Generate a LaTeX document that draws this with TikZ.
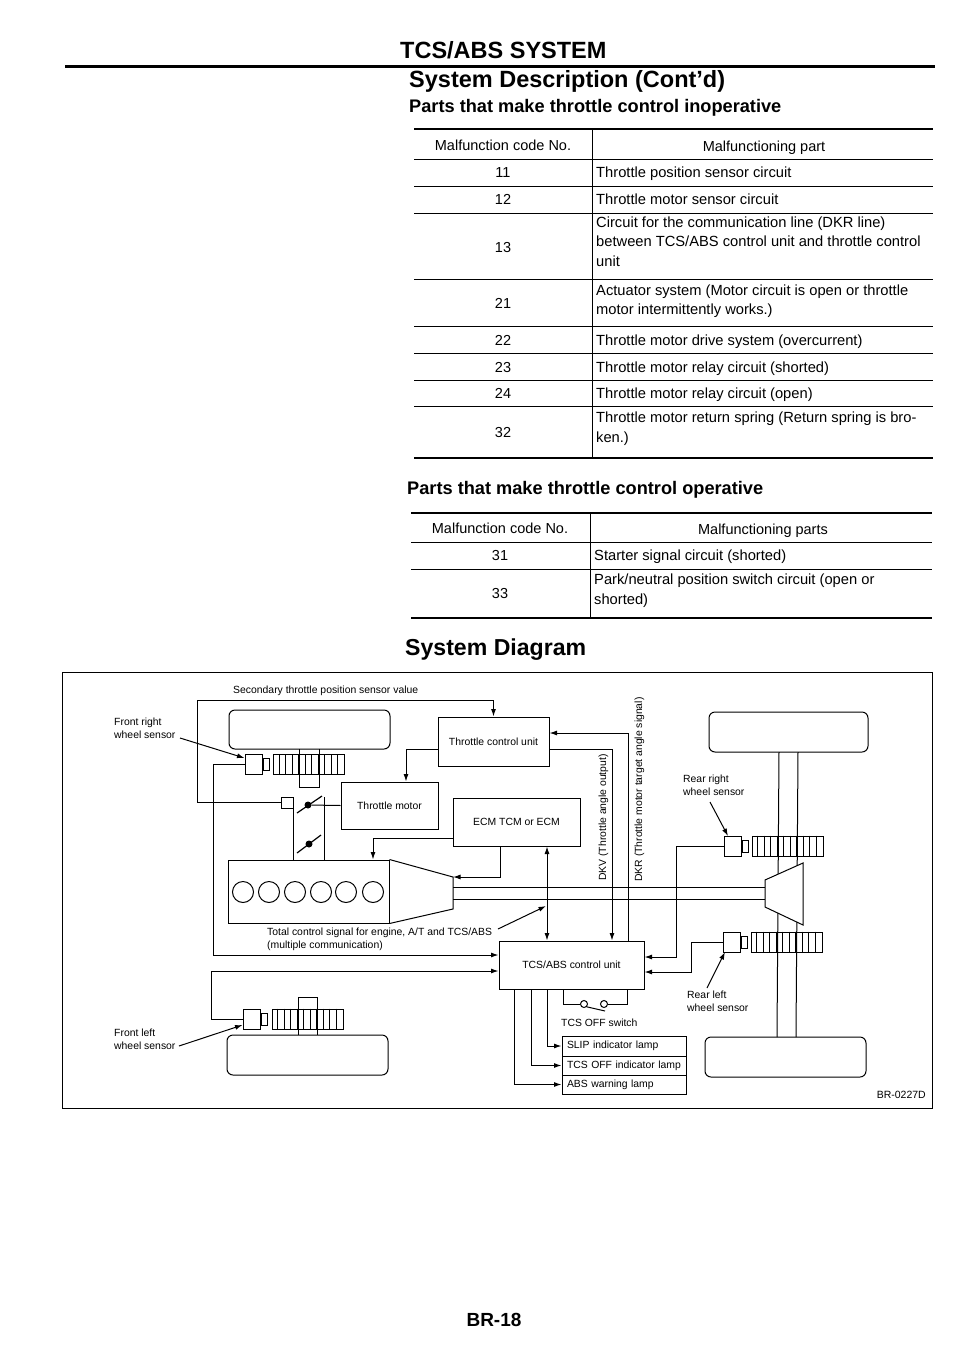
\documentclass[tikz,border=0pt]{standalone}
\usepackage{fontspec}
\setmainfont{Liberation Sans}
\usetikzlibrary{arrows.meta,calc}

\tikzset{
  block/.style={draw,line width=1pt,inner sep=0pt,font=\fontsize{10.4}{12}\selectfont},
  lamp/.style={block,minimum width=124pt,text width=119pt,align=left,execute at begin node={\hspace*{2.5pt}}},
  tire/.style={draw,line width=1pt,rounded corners=6pt,inner sep=0pt},
  lbl/.style={font=\fontsize{10.4}{13}\selectfont,inner sep=0pt,anchor=base west,align=left},
  cell/.style={font=\fontsize{14.7}{19.5}\selectfont,inner sep=0pt,anchor=base west,align=left},
  num/.style={font=\fontsize{14.5}{16}\selectfont,inner sep=0pt,anchor=base},
  head/.style={font=\bfseries\fontsize{23.5}{26}\selectfont,inner sep=0pt,anchor=base west},
  subhead/.style={font=\bfseries\fontsize{18.2}{20}\selectfont,inner sep=0pt,anchor=base west},
  wire/.style={line width=1pt},
}

% gear: name, centre x, centre y
\newcommand{\toothring}[3]{
  \node[block,minimum width=71pt,minimum height=20pt] (#1) at (#2,#3) {};
  \foreach \t in {1,...,10}
    \draw[wire] ($(#1.north west)+(\t*6.45,0)$) -- ($(#1.south west)+(\t*6.45,0)$);
}
% sensor: name, left x, centre y
\newcommand{\speedsensor}[3]{
  \node[block,minimum width=17pt,minimum height=20pt] (#1) at (#2+8.5,#3) {};
  \node[block,minimum width=6pt,minimum height=12pt,anchor=west] (#1nub) at (#1.east) {};
}

\begin{document}
\begin{tikzpicture}[x=1pt,y=-1pt,>={Latex[length=7.5pt,width=5pt]}]
\useasboundingbox (0,0) rectangle (960,1358);
\fill[white] (0,0) rectangle (960,1358);

% page heading
\node[head] (title) at (400,58) {TCS/ABS SYSTEM};
\draw[line width=3pt] (65,66) -- (935,66);
\node[head] (desc) at (409,87) {System Description (Cont'd)};
\node[subhead] (inop) at (409,112) {Parts that make throttle control inoperative};

% first table
\draw[line width=2pt] (414,129) -- (933,129);
\foreach \y in {159,186,213,279,326,353,380,406}
  \draw[line width=1pt] (414,\y) -- (933,\y);
\draw[line width=2.2pt] (414,458) -- (933,458);
\draw[line width=1pt] (592,129) -- (592,458);

\node[num] (hcode) at (503,150) {Malfunction code No.};
\node[num] (hpart) at (764,151) {Malfunctioning part};
\node[num] (n11) at (503,177) {11};
\node[cell] (p11) at (596,177) {Throttle position sensor circuit};
\node[num] (n12) at (503,204) {12};
\node[cell] (p12) at (596,204) {Throttle motor sensor circuit};
\node[num] (n13) at (503,252) {13};
\node[cell,anchor=north west] (p13) at (596,216.5) {Circuit for the communication line (DKR line)\\between TCS/ABS control unit and throttle control\\unit};
\node[num] (n21) at (503,308) {21};
\node[cell,anchor=north west] (p21) at (596,284.5) {Actuator system (Motor circuit is open or throttle\\motor intermittently works.)};
\node[num] (n22) at (503,345) {22};
\node[cell] (p22) at (596,345) {Throttle motor drive system (overcurrent)};
\node[num] (n23) at (503,372) {23};
\node[cell] (p23) at (596,372) {Throttle motor relay circuit (shorted)};
\node[num] (n24) at (503,398) {24};
\node[cell] (p24) at (596,398) {Throttle motor relay circuit (open)};
\node[num] (n32) at (503,437) {32};
\node[cell,anchor=north west] (p32) at (596,412) {Throttle motor return spring (Return spring is bro-\\ken.)};

% second table
\node[subhead] (oper) at (407,494) {Parts that make throttle control operative};
\draw[line width=2pt] (411,513) -- (932,513);
\foreach \y in {542,569}
  \draw[line width=1pt] (411,\y) -- (932,\y);
\draw[line width=2.2pt] (411,618) -- (932,618);
\draw[line width=1pt] (590,513) -- (590,618);

\node[num] (hcodeb) at (500,533) {Malfunction code No.};
\node[num] (hpartb) at (763,534) {Malfunctioning parts};
\node[num] (n31) at (500,560) {31};
\node[cell] (p31) at (594,560) {Starter signal circuit (shorted)};
\node[num] (n33) at (500,598) {33};
\node[cell,anchor=north west] (p33) at (594,574) {Park/neutral position switch circuit (open or\\shorted)};

\node[head,font=\bfseries\fontsize{23.1}{26}\selectfont] (sysd) at (405,655) {System Diagram};

% diagram frame
\draw[line width=1pt] (62.5,672) rectangle (932.5,1108);

% control units
\node[block,minimum width=111pt,minimum height=49pt] (tcu) at (493.5,741.5) {Throttle control unit};
\node[block,minimum width=97pt,minimum height=47pt] (motor) at (389.5,805.5) {Throttle motor};
\node[block,minimum width=127pt,minimum height=48pt] (ecm) at (516.5,822) {ECM TCM or ECM};
\node[block,minimum width=145pt,minimum height=48pt] (abs) at (571.5,965) {TCS/ABS control unit};

% lamps
\node[lamp,minimum height=20pt] (slip) at (624,1046) {SLIP indicator lamp};
\node[lamp,minimum height=19pt] (off) at (624,1065.5) {TCS OFF indicator lamp};
\node[lamp,minimum height=19pt] (warn) at (624,1084.5) {ABS warning lamp};

% wheels
\node[tire,minimum width=161pt,minimum height=39pt] (tirefr) at (309.5,729.5) {};
\node[tire,minimum width=161pt,minimum height=40pt] (tirefl) at (307.5,1055) {};
\node[tire,minimum width=159pt,minimum height=40pt] (tirerr) at (788.5,732) {};
\node[tire,minimum width=161pt,minimum height=40pt] (tirerl) at (785.5,1057) {};

% axles
\coordinate (stubfr) at (319,787);
\coordinate (stubfl) at (298,997);
\draw[wire] (299,749) |- (stubfr) -- (319,749);
\draw[wire] (298,1035) |- (stubfl -| 317,0) -- (317,1035);
\draw[wire] (779,752) -- (777,1037);
\draw[wire] (798,752) -- (796,1037);

% gears and sensors
\toothring{gearfr}{309}{764.5}
\toothring{gearfl}{307.5}{1019}
\toothring{gearrr}{787.5}{846}
\toothring{gearrl}{786.5}{942}
\speedsensor{fr}{245}{764}
\speedsensor{fl}{243}{1019}
\speedsensor{rr}{724}{846}
\speedsensor{rl}{723}{942}

% engine and throttle
\node[block,minimum width=161pt,minimum height=63pt] (engine) at (308.5,891.5) {};
\foreach \x in {243,269,295,321,346,373}
  \node[draw,line width=1pt,circle,minimum size=21pt,inner sep=0pt] (cyl\x) at (\x,892) {};
\node[block,minimum width=12pt,minimum height=11pt] (tps) at (287,802.5) {};
\node[circle,fill=black,minimum size=7pt,inner sep=0pt] (valvea) at (308,805) {};
\node[circle,fill=black,minimum size=7pt,inner sep=0pt] (valveb) at (309,844) {};
\draw[line width=1.2pt] (297,813) -- (322,796);
\draw[line width=1.2pt] (297,853) -- (321,835);
\draw[wire] (tps.south -| 293,0) -- (293,860);
\draw[wire] (324,797) -- (324,860);
\draw[wire] (motor.west) -- (valvea);

% transmission and differential
\coordinate (atop) at (453,877);
\coordinate (abot) at (453,909);
\draw[wire] (engine.north east) -- (atop) -- (abot) -- (engine.south east);
\node[inner sep=0pt] (diff) at (784,894) {};
\filldraw[wire,fill=white] (765,880) -- (803,863) -- (803,925) -- (765,907) -- cycle;
\draw[wire] (453,887) -- (765,887);
\draw[wire] (453,899) -- (765,899);

% signal lines
\coordinate (sectop) at (197,700.5);
\draw[wire,->] (tps.west) -| (sectop) -| (tcu.north);
\coordinate (tcuout) at (tcu.west |- 0,749);
\draw[wire,->] (tcuout) -| (motor.north -| 406,0);
\coordinate (ecmout) at (ecm.west |- 0,838);
\draw[wire,->] (ecmout) -| (engine.north -| 373,0);
\draw[wire,->] (ecm.south -| 500,0) |- (atop);
\draw[wire,<->] (ecm.south -| 547,0) -- (abs.north -| 547,0);
\draw[wire,->] (tcu.east |- 0,749) -| (abs.north -| 612,0);
\draw[wire,->] (abs.north -| 628,0) |- (tcu.east |- 0,733);

% wheel sensor lines
\draw[wire,->] (fr.west) -| (213,955) -- (abs.west |- 0,955);
\draw[wire,->] (fl.west) -| (211,971) -- (abs.west |- 0,971);
\draw[wire,->] (rr.west) -| (676,957) -- (abs.east |- 0,957);
\draw[wire,->] (rl.west) -| (691,972) -- (abs.east |- 0,972);

% lamps and switch
\draw[wire,->] (abs.south -| 547,0) |- (slip.west);
\draw[wire,->] (abs.south -| 531,0) |- (off.west);
\draw[wire,->] (abs.south -| 514,0) |- (warn.west);
\node[draw,line width=1pt,circle,minimum size=7pt,inner sep=0pt] (swa) at (584,1004) {};
\node[draw,line width=1pt,circle,minimum size=7pt,inner sep=0pt] (swb) at (604,1004) {};
\draw[wire] (abs.south -| 563,0) |- (swa.west);
\draw[wire] (abs.south -| 627,0) |- (swb.east);
\draw[wire] (swa.south east) -- (605,1011);
\node[lbl] (swlbl) at (561,1026) {TCS OFF switch};

% labels with leaders
\node[lbl,anchor=north west] (lfr) at (114,718) {Front right\\wheel sensor};
\node[lbl,anchor=north west] (lfl) at (114,1029) {Front left\\wheel sensor};
\node[lbl,anchor=north west] (lrr) at (683,775) {Rear right\\wheel sensor};
\node[lbl,anchor=north west] (lrl) at (687,991) {Rear left\\wheel sensor};
\coordinate (fromfr) at (180,738);
\coordinate (fromfl) at (179,1046);
\coordinate (fromrr) at (710,802);
\coordinate (fromrl) at (707,988);
\coordinate (fromtot) at (498,929);
\draw[wire,->] (fromfr) -- (fr.west |- 0,758);
\draw[wire,->] (fromfl) -- (fl.west |- 0,1025);
\draw[wire,->] (fromrr) -- (728,836);
\draw[wire,->] (fromrl) -- (725,952);
\draw[wire,->] (fromtot) -- (546,906);

\node[lbl] (lsec) at (233,693) {Secondary throttle position sensor value};
\node[lbl,anchor=north west] (ltot) at (267,928) {Total control signal for engine, A/T and TCS/ABS\\(multiple communication)};
\node[lbl,rotate=90] (ldkv) at (606,881) {DKV (Throttle angle output)};
\node[lbl,rotate=90] (ldkr) at (642,882) {DKR (Throttle motor target angle signal)};
\node[lbl,anchor=base east,font=\fontsize{10.5}{12}\selectfont] (code) at (926,1098) {BR-0227D};

% page number
\node[inner sep=0pt,font=\bfseries\fontsize{19}{22}\selectfont] (page) at (494,1320) {BR-18};
\end{tikzpicture}
\end{document}
